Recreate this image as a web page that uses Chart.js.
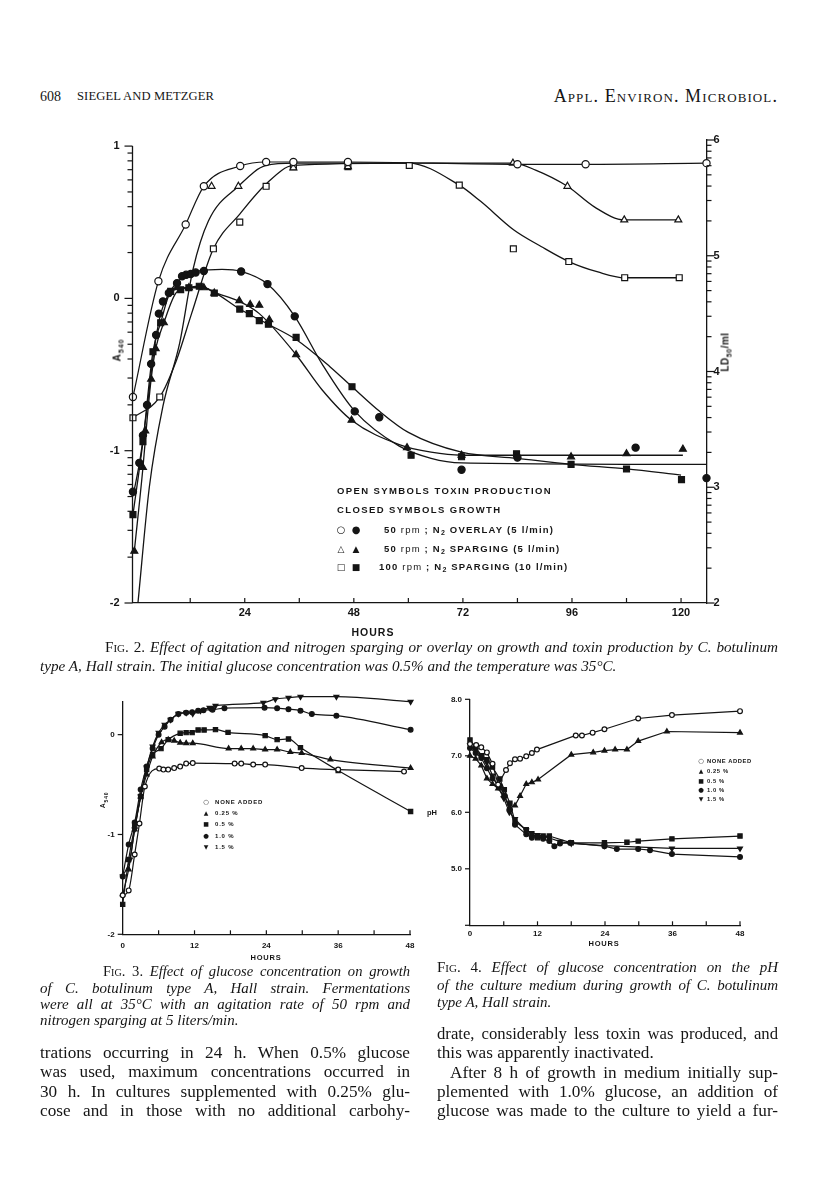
<!DOCTYPE html>
<html><head><meta charset="utf-8">
<script src="https://cdn.jsdelivr.net/npm/chart.js@4.4.1/dist/chart.umd.min.js"></script>
<style>
html,body{margin:0;padding:0;background:#fff;}
body{width:816px;height:1195px;position:relative;overflow:hidden;color:#151515;}
canvas{position:absolute;}
.t{position:absolute;white-space:nowrap;}
.serif{font-family:"Liberation Serif","DejaVu Serif",serif;}
.it{font-style:italic;}
.sc{font-variant:small-caps;font-style:normal;}
.jl{position:absolute;text-align:justify;text-align-last:justify;font-family:"Liberation Serif",serif;}
.ll{position:absolute;font-family:"Liberation Serif",serif;white-space:nowrap;}
.lab{position:absolute;font-family:"Liberation Sans",Arial,sans-serif;font-weight:bold;white-space:nowrap;transform:translate(-50%,-50%);}
.leg{position:absolute;font-family:"Liberation Sans",Arial,sans-serif;font-weight:bold;white-space:nowrap;transform:translateY(-50%);}
.sym{position:absolute;font-family:"DejaVu Sans",sans-serif;transform:translate(-50%,-50%);line-height:1;}
</style></head><body>

<!-- header -->
<div class="t serif" style="left:40px;top:89px;font-size:14px;">608</div>
<div class="t serif" style="left:77px;top:89px;font-size:12.6px;letter-spacing:0.1px;">SIEGEL AND METZGER</div>
<div class="t serif" style="right:38px;top:86px;font-size:18px;font-variant:small-caps;letter-spacing:1.1px;">Appl. Environ. Microbiol.</div>

<canvas id="c2" width="680" height="530" style="left:80px;top:120px;width:680px;height:530px"></canvas>
<canvas id="c3" width="370" height="290" style="left:60px;top:680px;width:370px;height:290px"></canvas>
<canvas id="c4" width="350" height="280" style="left:420px;top:680px;width:350px;height:280px"></canvas>

<!-- Fig 2 axis titles -->
<div class="lab" style="left:118px;top:350px;font-size:10px;transform:translate(-50%,-50%) rotate(-90deg);letter-spacing:1px;">A<sub style="font-size:7px">540</sub></div>
<div class="lab" style="left:726px;top:352px;font-size:10px;transform:translate(-50%,-50%) rotate(-90deg);letter-spacing:0.5px;">LD<sub style="font-size:7px">50</sub>/ml</div>
<div class="lab" style="left:373px;top:632px;font-size:10.5px;letter-spacing:1px;">HOURS</div>

<!-- Fig 2 legend -->
<div class="leg" style="left:337px;top:490px;font-size:9.5px;letter-spacing:1.4px;">OPEN SYMBOLS TOXIN PRODUCTION</div>
<div class="leg" style="left:337px;top:509px;font-size:9.5px;letter-spacing:1.4px;">CLOSED SYMBOLS GROWTH</div>
<div class="sym" style="left:341px;top:530px;font-size:10px;">○</div><div class="sym" style="left:356px;top:530px;font-size:10px;">●</div>
<div class="leg" style="left:384px;top:530px;font-size:9.5px;letter-spacing:1.2px;">50 <span style="font-weight:normal">rpm</span> ; N<sub style="font-size:7px">2</sub> OVERLAY (5 l/min)</div>
<div class="sym" style="left:341px;top:549px;font-size:9px;">△</div><div class="sym" style="left:356px;top:549px;font-size:9px;">▲</div>
<div class="leg" style="left:384px;top:549px;font-size:9.5px;letter-spacing:1.2px;">50 <span style="font-weight:normal">rpm</span> ; N<sub style="font-size:7px">2</sub> SPARGING (5 l/min)</div>
<div class="sym" style="left:341px;top:567px;font-size:9px;">□</div><div class="sym" style="left:356px;top:567px;font-size:9px;">■</div>
<div class="leg" style="left:379px;top:567px;font-size:9.5px;letter-spacing:1.2px;">100 <span style="font-weight:normal">rpm</span> ; N<sub style="font-size:7px">2</sub> SPARGING (10 l/min)</div>

<!-- Fig 2 caption -->
<div class="jl" style="left:105px;top:637px;width:673px;font-size:15.2px;line-height:20px;"><span class="sc">Fig.</span> <span style="font-style:normal">2.</span> <span class="it">Effect of agitation and nitrogen sparging or overlay on growth and toxin production by C. botulinum</span></div>
<div class="ll it" style="left:40px;top:656px;font-size:15.2px;line-height:20px;">type A, Hall strain. The initial glucose concentration was 0.5% and the temperature was 35°C.</div>

<!-- Fig 3 labels -->
<div class="lab" style="left:104px;top:800px;font-size:7px;transform:translate(-50%,-50%) rotate(-90deg);letter-spacing:0.8px;">A<sub style="font-size:5px">540</sub></div>
<div class="lab" style="left:266px;top:957px;font-size:7.5px;letter-spacing:0.8px;">HOURS</div>
<div class="sym" style="left:206px;top:802px;font-size:6.5px;">○</div><div class="leg" style="left:215px;top:802px;font-size:6px;letter-spacing:0.8px;">NONE ADDED</div>
<div class="sym" style="left:206px;top:813px;font-size:6px;">▲</div><div class="leg" style="left:215px;top:813px;font-size:6px;letter-spacing:0.8px;">0.25 %</div>
<div class="sym" style="left:206px;top:824px;font-size:6px;">■</div><div class="leg" style="left:215px;top:824px;font-size:6px;letter-spacing:0.8px;">0.5 %</div>
<div class="sym" style="left:206px;top:836px;font-size:6.5px;">●</div><div class="leg" style="left:215px;top:836px;font-size:6px;letter-spacing:0.8px;">1.0 %</div>
<div class="sym" style="left:206px;top:847px;font-size:6px;">▼</div><div class="leg" style="left:215px;top:847px;font-size:6px;letter-spacing:0.8px;">1.5 %</div>

<!-- Fig 4 labels -->
<div class="lab" style="left:432px;top:812px;font-size:7.5px;">pH</div>
<div class="lab" style="left:604px;top:943px;font-size:7.5px;letter-spacing:0.8px;">HOURS</div>
<div class="sym" style="left:701px;top:761px;font-size:6.5px;">○</div><div class="leg" style="left:707px;top:761px;font-size:5.8px;letter-spacing:0.6px;">NONE ADDED</div>
<div class="sym" style="left:701px;top:771px;font-size:6px;">▲</div><div class="leg" style="left:707px;top:771px;font-size:5.8px;letter-spacing:0.6px;">0.25 %</div>
<div class="sym" style="left:701px;top:781px;font-size:6px;">■</div><div class="leg" style="left:707px;top:781px;font-size:5.8px;letter-spacing:0.6px;">0.5 %</div>
<div class="sym" style="left:701px;top:790px;font-size:6.5px;">●</div><div class="leg" style="left:707px;top:790px;font-size:5.8px;letter-spacing:0.6px;">1.0 %</div>
<div class="sym" style="left:701px;top:799px;font-size:6px;">▼</div><div class="leg" style="left:707px;top:799px;font-size:5.8px;letter-spacing:0.6px;">1.5 %</div>

<!-- Fig 3 caption -->
<div class="jl" style="left:103px;top:962px;width:307px;font-size:14.6px;line-height:18px;"><span class="sc">Fig.</span> <span style="font-style:normal">3.</span> <span class="it">Effect of glucose concentration on growth</span></div>
<div class="jl it" style="left:40px;top:979px;width:370px;font-size:15px;line-height:18px;">of C. botulinum type A, Hall strain. Fermentations</div>
<div class="jl it" style="left:40px;top:995px;width:370px;font-size:15px;line-height:18px;">were all at 35°C with an agitation rate of 50 rpm and</div>
<div class="ll it" style="left:40px;top:1011px;font-size:15px;line-height:18px;">nitrogen sparging at 5 liters/min.</div>

<!-- Fig 4 caption -->
<div class="jl" style="left:437px;top:958px;width:341px;font-size:15px;line-height:18px;"><span class="sc">Fig.</span> <span style="font-style:normal">4.</span> <span class="it">Effect of glucose concentration on the pH</span></div>
<div class="jl it" style="left:437px;top:976px;width:341px;font-size:15px;line-height:18px;">of the culture medium during growth of C. botulinum</div>
<div class="ll it" style="left:437px;top:993px;font-size:15px;line-height:18px;">type A, Hall strain.</div>

<!-- body text left -->
<div class="jl" style="left:40px;top:1041px;width:370px;font-size:17.2px;line-height:23px;">trations occurring in 24 h. When 0.5% glucose</div>
<div class="jl" style="left:40px;top:1060px;width:370px;font-size:17.2px;line-height:23px;">was used, maximum concentrations occurred in</div>
<div class="jl" style="left:40px;top:1080px;width:370px;font-size:17.2px;line-height:23px;">30 h. In cultures supplemented with 0.25% glu-</div>
<div class="jl" style="left:40px;top:1099px;width:370px;font-size:17.2px;line-height:23px;">cose and in those with no additional carbohy-</div>
<!-- body text right -->
<div class="jl" style="left:437px;top:1022px;width:341px;font-size:16.7px;line-height:23px;">drate, considerably less toxin was produced, and</div>
<div class="ll" style="left:437px;top:1041px;font-size:17.2px;line-height:23px;">this was apparently inactivated.</div>
<div class="jl" style="left:450px;top:1061px;width:328px;font-size:17.2px;line-height:23px;">After 8 h of growth in medium initially sup-</div>
<div class="jl" style="left:437px;top:1080px;width:341px;font-size:17.2px;line-height:23px;">plemented with 1.0% glucose, an addition of</div>
<div class="jl" style="left:437px;top:1099px;width:341px;font-size:17.2px;line-height:23px;">glucose was made to the culture to yield a fur-</div>

<script>
// ================= DATA =================
// ---- Fig. 2 (hours; growth = log A540 on left axis; toxin = log LD50/ml on right axis)
const fig2XTickLabels = [24, 48, 72, 96, 120];
const fig2LeftTickLabels = [-2, -1, 0, 1];
const fig2RightTickLabels = [2, 3, 4, 5, 6];

// toxin, open symbols
const toxOverlayHours = [-0.6, 5, 11, 15, 23, 28.7, 34.7, 46.7, 84, 99, 125.6];
const toxOverlayLD    = [3.78, 4.78, 5.27, 5.60, 5.775, 5.81, 5.81, 5.81, 5.79, 5.79, 5.80];
const toxSparge5Hours = [16.7, 22.6, 34.7, 46.7, 83, 95, 107.5, 119.4];
const toxSparge5LD    = [5.60, 5.60, 5.76, 5.77, 5.80, 5.60, 5.31, 5.31];
const toxSparge10Hours = [-0.6, 5.3, 17.1, 22.9, 28.7, 34.7, 46.7, 60.2, 71.2, 83.1, 95.3, 107.6, 119.6];
const toxSparge10LD    = [3.60, 3.78, 5.06, 5.29, 5.60, 5.77, 5.77, 5.78, 5.61, 5.06, 4.95, 4.81, 4.81];

// toxin fitted curves
const toxSparge5CurveHours = [0.5, 3, 6, 9.7, 12.6, 16, 22.6, 28.7, 35, 83, 88, 95, 101, 107.5, 119.4];
const toxSparge5CurveLD    = [2.0, 3.0, 3.7, 4.25, 4.88, 5.3, 5.6, 5.78, 5.80, 5.80, 5.74, 5.60, 5.42, 5.31, 5.31];
const toxSparge10CurveHours = [-0.6, 5.3, 9, 12.3, 17.1, 22.9, 28.7, 34.7, 60, 71.2, 75.9, 83.3, 89.2, 95.3, 101.7, 107.6, 119.6];
const toxSparge10CurveLD    = [3.60, 3.78, 4.1, 4.5, 5.06, 5.36, 5.62, 5.78, 5.80, 5.61, 5.47, 5.22, 5.08, 4.95, 4.86, 4.81, 4.81];

// growth, closed symbols
const grOverlayHours = [-0.6, 0.8, 1.6, 2.5, 3.4, 4.5, 5.1, 6.0, 7.3, 9.1, 10.2, 11.1, 12.1, 13.2, 15, 23.2, 29, 35, 48.2, 53.6, 71.7, 84, 110, 125.6];
const grOverlayA     = [-1.27, -1.08, -0.90, -0.70, -0.43, -0.24, -0.10, -0.02, 0.035, 0.10, 0.145, 0.155, 0.16, 0.17, 0.18, 0.177, 0.094, -0.118, -0.742, -0.78, -1.125, -1.045, -0.98, -1.18];
const grSparge5Hours = [-0.3, 1.6, 2.1, 3.4, 4.4, 6.2, 9.1, 11.7, 15, 17.3, 22.8, 25.2, 27.2, 29.4, 35.3, 47.5, 59.7, 71.7, 95.8, 108, 120.4];
const grSparge5A     = [-1.66, -1.11, -0.87, -0.53, -0.33, -0.16, 0.07, 0.07, 0.07, 0.035, -0.015, -0.04, -0.045, -0.14, -0.37, -0.80, -0.98, -1.03, -1.04, -1.02, -0.99];
const grSparge10Hours = [-0.6, 1.6, 3.8, 5.5, 7.7, 9.9, 11.7, 14, 17.3, 22.9, 25, 27.2, 29.2, 35.3, 47.6, 60.6, 71.7, 83.8, 95.8, 108, 120.1];
const grSparge10A     = [-1.42, -0.94, -0.35, -0.16, 0.046, 0.057, 0.07, 0.08, 0.035, -0.07, -0.10, -0.146, -0.17, -0.256, -0.58, -1.03, -1.04, -1.02, -1.09, -1.12, -1.19];

// growth fitted curves
const grOverlayCurveHours = [-0.6, 1, 2.5, 4, 5.5, 7.5, 10, 14, 19, 23.2, 29, 35, 41, 48.2, 58, 65, 71.7, 125.6];
const grOverlayCurveA     = [-1.3, -1.05, -0.72, -0.35, -0.1, 0.04, 0.13, 0.18, 0.19, 0.177, 0.094, -0.118, -0.43, -0.74, -0.97, -1.05, -1.08, -1.09];
const grSparge5CurveHours = [-0.3, 1.6, 2.5, 3.4, 4.4, 6.2, 9, 12, 15, 17.3, 22.8, 27.2, 35.3, 41, 47.5, 58, 65, 71.7, 120.4];
const grSparge5CurveA     = [-1.66, -1.11, -0.8, -0.53, -0.33, -0.16, 0.04, 0.07, 0.07, 0.04, -0.02, -0.1, -0.37, -0.6, -0.80, -0.96, -1.01, -1.03, -1.03];
const grSparge10CurveHours = [-0.6, 1.6, 3.8, 5.5, 7.7, 11, 14, 17.3, 22.9, 29.2, 35.3, 42.8, 47.6, 53.6, 60, 71.7, 84, 95.8, 108, 120];
const grSparge10CurveA     = [-1.42, -0.94, -0.35, -0.16, 0.04, 0.07, 0.08, 0.04, -0.07, -0.17, -0.27, -0.45, -0.58, -0.74, -0.88, -1.01, -1.05, -1.09, -1.12, -1.16];

// ---- Fig. 3 (hours; log A540)
const fig3XTickLabels = [0, 12, 24, 36, 48];
const fig3YTickLabels = [-2, -1, 0];
const f3NoneHours = [0, 1, 2, 2.8, 3.7, 6.1, 6.8, 7.6, 8.6, 9.6, 10.6, 11.7, 18.7, 19.8, 21.8, 23.8, 29.9, 36, 47];
const f3NoneA     = [-1.61, -1.56, -1.20, -0.89, -0.52, -0.34, -0.35, -0.35, -0.335, -0.32, -0.29, -0.285, -0.29, -0.29, -0.30, -0.30, -0.335, -0.35, -0.37];
const f3G025Hours = [0, 1, 2, 3, 4, 5, 6.5, 7.6, 8.6, 9.6, 10.6, 11.7, 17.7, 19.8, 21.8, 23.8, 25.8, 28, 29.9, 34.7, 48.1];
const f3G025A     = [-1.60, -1.35, -0.95, -0.62, -0.40, -0.22, -0.076, -0.05, -0.06, -0.08, -0.085, -0.085, -0.14, -0.14, -0.14, -0.15, -0.15, -0.175, -0.185, -0.25, -0.335];
const f3G05Hours  = [0, 1, 2, 3, 4, 5, 6.4, 7.6, 9.6, 10.6, 11.6, 12.6, 13.6, 15.5, 17.6, 23.8, 25.8, 27.7, 29.7, 36, 48.1];
const f3G05A      = [-1.70, -1.25, -0.92, -0.62, -0.35, -0.20, -0.14, -0.05, 0.013, 0.02, 0.02, 0.047, 0.047, 0.05, 0.023, -0.01, -0.05, -0.043, -0.13, -0.36, -0.77];
const f3G10Hours  = [0, 1, 2, 3, 4, 5, 6, 7, 8, 9.3, 10.6, 11.6, 12.6, 13.5, 15, 17, 23.7, 25.8, 27.7, 29.7, 31.6, 35.7, 48.1];
const f3G10A      = [-1.42, -1.10, -0.88, -0.55, -0.32, -0.14, 0.0, 0.08, 0.15, 0.206, 0.22, 0.225, 0.24, 0.245, 0.25, 0.265, 0.27, 0.265, 0.255, 0.24, 0.206, 0.19, 0.05];
const f3G15Hours  = [0, 1.2, 2, 3, 4, 5, 6, 7, 8, 9.3, 10.6, 11.7, 13, 14.5, 15.5, 23.5, 25.5, 27.7, 29.7, 35.7, 48.1];
const f3G15A      = [-1.42, -1.25, -0.95, -0.62, -0.33, -0.12, 0.02, 0.1, 0.15, 0.21, 0.22, 0.21, 0.24, 0.27, 0.29, 0.32, 0.355, 0.37, 0.38, 0.38, 0.33];

// ---- Fig. 4 (hours; pH)
const fig4XTickLabels = [0, 12, 24, 36, 48];
const fig4YTickLabels = [4, 5, 6, 7, 8];
const f4NoneHours = [0, 1.1, 2, 3, 4, 5, 6.4, 7.1, 8, 8.9, 10, 11, 11.9, 18.8, 19.9, 21.8, 23.9, 29.9, 35.9, 48];
const f4NonePH    = [7.21, 7.19, 7.15, 7.06, 6.86, 6.49, 6.75, 6.87, 6.94, 6.95, 6.99, 7.05, 7.11, 7.36, 7.36, 7.41, 7.47, 7.66, 7.72, 7.79];
const f4G025Hours = [0, 1, 2, 3, 4, 5, 6, 7, 8, 8.9, 10, 11, 12.1, 18, 21.9, 23.9, 25.8, 27.9, 29.9, 35, 48];
const f4G025PH    = [7.0, 6.95, 6.83, 6.6, 6.5, 6.42, 6.3, 6.08, 6.12, 6.29, 6.5, 6.53, 6.58, 7.02, 7.06, 7.09, 7.11, 7.11, 7.26, 7.43, 7.41];
const f4G05Hours  = [0, 1, 2.1, 3, 4, 5.3, 6.1, 7.1, 8, 10, 11, 12, 13, 14.1, 18, 23.9, 27.9, 29.9, 35.9, 48];
const f4G05PH     = [7.28, 7.15, 7.0, 6.93, 6.8, 6.59, 6.4, 6.16, 5.84, 5.69, 5.62, 5.55, 5.58, 5.58, 5.46, 5.46, 5.47, 5.49, 5.53, 5.58];
const f4G10Hours  = [0, 1, 2, 3, 4, 5.3, 6.2, 7.1, 8, 10, 11, 12, 13, 14.1, 15, 16, 17.8, 23.9, 26.1, 29.9, 32, 35.9, 48];
const f4G10PH     = [7.14, 7.05, 6.96, 6.78, 6.6, 6.46, 6.29, 6.05, 5.78, 5.61, 5.55, 5.58, 5.53, 5.49, 5.40, 5.45, 5.46, 5.40, 5.35, 5.35, 5.33, 5.26, 5.21];
const f4G15Hours  = [0, 1, 2, 3, 4, 5, 6, 7, 8, 10, 12, 14, 16, 18, 23.9, 35.9, 48];
const f4G15PH     = [7.19, 7.1, 7.0, 6.88, 6.65, 6.45, 6.25, 6.0, 5.88, 5.68, 5.6, 5.55, 5.48, 5.45, 5.41, 5.36, 5.36];

// ================= HELPERS =================
const INK = '#141414';
Chart.defaults.font.family = '"Liberation Sans", Arial, sans-serif';
Chart.defaults.color = INK;

function pts(xs, ys) { return xs.map((x, i) => ({ x: x, y: ys[i] })); }
function curve(xs, ys, axis, smooth) {
  return { type: 'line', data: pts(xs, ys), yAxisID: axis, borderColor: INK, borderWidth: 1.3,
    pointRadius: 0, fill: false, cubicInterpolationMode: smooth ? 'monotone' : 'default', tension: 0, clip: false, order: 2 };
}
function marks(xs, ys, axis, style, filled, r, rot, line, smooth) {
  return { type: 'line', data: pts(xs, ys), yAxisID: axis, showLine: !!line, borderColor: INK, borderWidth: line ? 1.2 : 0,
    cubicInterpolationMode: smooth ? 'monotone' : 'default', tension: 0,
    pointStyle: style, pointRotation: rot || 0, pointRadius: r, pointBorderWidth: 1.2,
    pointBorderColor: INK, pointBackgroundColor: filled ? INK : '#fff', backgroundColor: filled ? INK : '#fff', fill: false, clip: false, order: 1 };
}
function fixedTicks(list) { return function (s) { s.ticks = list.map(v => ({ value: v })); }; }

// tick marks and partial axis lines drawn through the scales
const tickMarks = {
  id: 'tickMarks',
  afterDraw(chart, args, opts) {
    const ctx = chart.ctx;
    ctx.save(); ctx.strokeStyle = INK; ctx.lineWidth = 1.2;
    (opts.lines || []).forEach(l => {
      const s = chart.scales[l.axis];
      const x = s.position === 'left' ? s.right : s.left;
      ctx.lineWidth = 1.3;
      ctx.beginPath(); ctx.moveTo(x, s.getPixelForValue(l.from)); ctx.lineTo(x, s.getPixelForValue(l.to)); ctx.stroke();
    });
    ctx.lineWidth = 1.2;
    (opts.marks || []).forEach(m => {
      const s = chart.scales[m.axis];
      m.values.forEach(v => {
        const p = s.getPixelForValue(v);
        ctx.beginPath();
        if (s.isHorizontal()) { ctx.moveTo(p, s.top); ctx.lineTo(p, s.top + m.dir * m.len); }
        else { const x = s.position === 'left' ? s.right : s.left; ctx.moveTo(x, p); ctx.lineTo(x + m.dir * m.len, p); }
        ctx.stroke();
      });
    });
    ctx.restore();
  }
};

function logMinor(from, to) { const out = []; for (let n = from; n < to; n++) for (let k = 2; k <= 9; k++) out.push(n + Math.log10(k)); return out; }
function range(a, b, st) { const o = []; for (let v = a; v <= b + 1e-9; v += st) o.push(v); return o; }

const border = { display: true, color: INK, width: 1.3 };
const noGrid = { display: false, drawTicks: false, tickLength: 0 };

// ================= FIG 2 =================
new Chart(document.getElementById('c2'), {
  data: { datasets: [
    marks(toxOverlayHours, toxOverlayLD, 'yR', 'circle', false, 3.6, 0, true, true),
    curve(toxSparge5CurveHours, toxSparge5CurveLD, 'yR', true),
    marks(toxSparge5Hours, toxSparge5LD, 'yR', 'triangle', false, 4, 0, false),
    curve(toxSparge10CurveHours, toxSparge10CurveLD, 'yR', true),
    marks(toxSparge10Hours, toxSparge10LD, 'yR', 'rect', false, 4.2, 0, false),
    curve(grOverlayCurveHours, grOverlayCurveA, 'yL', true),
    marks(grOverlayHours, grOverlayA, 'yL', 'circle', true, 3.6, 0, false),
    curve(grSparge5CurveHours, grSparge5CurveA, 'yL', true),
    marks(grSparge5Hours, grSparge5A, 'yL', 'triangle', true, 4, 0, false),
    curve(grSparge10CurveHours, grSparge10CurveA, 'yL', true),
    marks(grSparge10Hours, grSparge10A, 'yL', 'rect', true, 4.2, 0, false)
  ]},
  options: {
    responsive: false, animation: false, devicePixelRatio: 1,
    layout: { padding: { top: 20, right: 0, bottom: 0, left: 0 } },
    plugins: { legend: { display: false }, tooltip: { enabled: false },
      tickMarks: {
        lines: [{ axis: 'yL', from: -2, to: 1 }],
        marks: [
        { axis: 'yL', values: fig2LeftTickLabels, dir: -1, len: 8 },
        { axis: 'yL', values: logMinor(-2, 1), dir: -1, len: 5 },
        { axis: 'yR', values: fig2RightTickLabels, dir: 1, len: 8 },
        { axis: 'yR', values: logMinor(2, 6), dir: 1, len: 5 },
        { axis: 'x', values: range(12, 120, 12), dir: -1, len: 5 }
      ]}},
    scales: {
      x: { type: 'linear', position: 'bottom', min: -0.7, max: 125.6,
        afterFit(s) { s.height = 47; }, afterBuildTicks: fixedTicks(fig2XTickLabels),
        ticks: { autoSkip: false, maxRotation: 0, padding: 3, font: { size: 11, weight: 'bold' }, callback: v => String(v) },
        grid: noGrid, border: border },
      yL: { type: 'linear', position: 'left', min: -2, max: 1.04,
        afterFit(s) { s.width = 52.5; }, afterBuildTicks: fixedTicks(fig2LeftTickLabels),
        ticks: { autoSkip: false, padding: 13, font: { size: 11, weight: 'bold' }, callback: v => String(v) },
        grid: noGrid, border: { display: false } },
      yR: { type: 'linear', position: 'right', min: 2, max: 6,
        afterFit(s) { s.width = 53.5; }, afterBuildTicks: fixedTicks(fig2RightTickLabels),
        ticks: { autoSkip: false, padding: 7, font: { size: 11, weight: 'bold' }, callback: v => String(v) },
        grid: noGrid, border: border }
    }
  },
  plugins: [tickMarks]
});

// ================= FIG 3 =================
new Chart(document.getElementById('c3'), {
  data: { datasets: [
    marks(f3NoneHours, f3NoneA, 'y', 'circle', false, 2.4, 0, true, true),
    marks(f3G025Hours, f3G025A, 'y', 'triangle', true, 2.8, 0, true, true),
    marks(f3G05Hours, f3G05A, 'y', 'rect', true, 3, 0, true, true),
    marks(f3G10Hours, f3G10A, 'y', 'circle', true, 2.4, 0, true, true),
    marks(f3G15Hours, f3G15A, 'y', 'triangle', true, 2.8, 180, true, true)
  ]},
  options: {
    responsive: false, animation: false, devicePixelRatio: 1,
    layout: { padding: { top: 21.7, right: 20, bottom: 0, left: 0 } },
    plugins: { legend: { display: false }, tooltip: { enabled: false },
      tickMarks: { marks: [
        { axis: 'y', values: fig3YTickLabels, dir: -1, len: 5 },
        { axis: 'x', values: range(6, 48, 6), dir: -1, len: 4 }
      ]}},
    scales: {
      x: { type: 'linear', position: 'bottom', min: 0, max: 48,
        afterFit(s) { s.height = 35.7; }, afterBuildTicks: fixedTicks(fig3XTickLabels),
        ticks: { autoSkip: false, maxRotation: 0, padding: 7, font: { size: 8, weight: 'bold' }, callback: v => String(v) },
        grid: noGrid, border: border },
      y: { type: 'linear', position: 'left', min: -2, max: 0.33,
        afterFit(s) { s.width = 62.7; }, afterBuildTicks: fixedTicks(fig3YTickLabels),
        ticks: { autoSkip: false, padding: 8, font: { size: 8, weight: 'bold' }, callback: v => String(v) },
        grid: noGrid, border: border }
    }
  },
  plugins: [tickMarks]
});

// ================= FIG 4 =================
new Chart(document.getElementById('c4'), {
  data: { datasets: [
    marks(f4NoneHours, f4NonePH, 'y', 'circle', false, 2.4, 0, true),
    marks(f4G025Hours, f4G025PH, 'y', 'triangle', true, 2.8, 0, true),
    marks(f4G05Hours, f4G05PH, 'y', 'rect', true, 3, 0, true),
    marks(f4G10Hours, f4G10PH, 'y', 'circle', true, 2.4, 0, true),
    marks(f4G15Hours, f4G15PH, 'y', 'triangle', true, 2.8, 180, true)
  ]},
  options: {
    responsive: false, animation: false, devicePixelRatio: 1,
    layout: { padding: { top: 19.3, right: 30, bottom: 0, left: 0 } },
    plugins: { legend: { display: false }, tooltip: { enabled: false },
      tickMarks: { marks: [
        { axis: 'y', values: fig4YTickLabels, dir: -1, len: 5 },
        { axis: 'x', values: range(6, 48, 6), dir: -1, len: 4 }
      ]}},
    scales: {
      x: { type: 'linear', position: 'bottom', min: 0, max: 48,
        afterFit(s) { s.height = 34.7; }, afterBuildTicks: fixedTicks(fig4XTickLabels),
        ticks: { autoSkip: false, maxRotation: 0, padding: 4, font: { size: 8, weight: 'bold' }, callback: v => String(v) },
        grid: noGrid, border: border },
      y: { type: 'linear', position: 'left', min: 4, max: 8,
        afterFit(s) { s.width = 50; }, afterBuildTicks: fixedTicks(fig4YTickLabels),
        ticks: { autoSkip: false, padding: 8, font: { size: 8, weight: 'bold' }, callback: v => (v === 4 ? '' : Number(v).toFixed(1)) },
        grid: noGrid, border: border }
    }
  },
  plugins: [tickMarks]
});
</script>
</body></html>
